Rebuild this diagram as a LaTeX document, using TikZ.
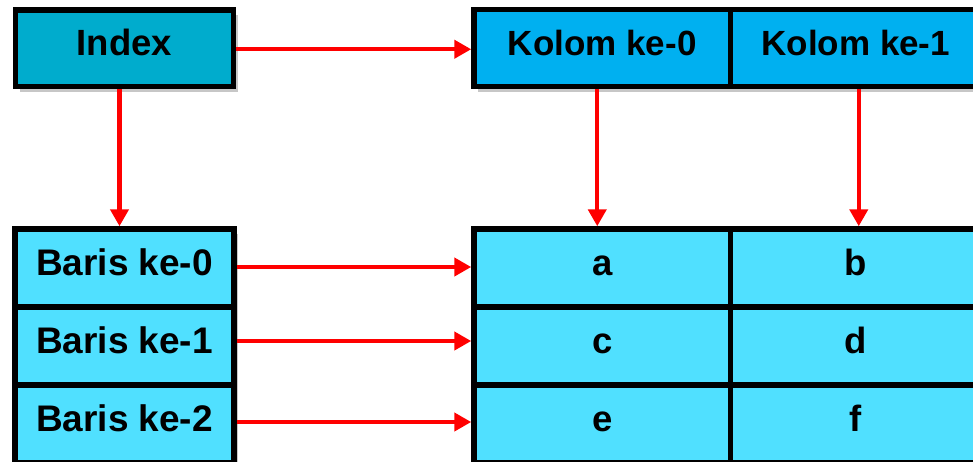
\documentclass[tikz,border=0pt]{standalone}
\usepackage{fontspec}
\setmainfont{Liberation Sans}
\usetikzlibrary{arrows.meta,shadows}
\definecolor{idxblue}{RGB}{0,172,205}
\definecolor{colblue}{RGB}{0,176,240}
\definecolor{cellblue}{RGB}{80,224,255}
\definecolor{linkred}{RGB}{255,0,0}
\begin{document}
\begin{tikzpicture}[x=1pt,y=-1pt,
  box/.style={rectangle, draw=black, line width=5.5pt, inner sep=0pt,
    text height=14pt, text depth=0pt,
    font=\fontsize{36.5}{40}\selectfont\bfseries,
    drop shadow={shadow xshift=4pt, shadow yshift=-5pt, opacity=.22, fill=black}},
  idxbox/.style={box, fill=idxblue, minimum width=218pt, minimum height=76.5pt},
  colbox/.style={box, fill=colblue, minimum height=77pt,
    font=\fontsize{35}{40}\selectfont\bfseries},
  rowbox/.style={box, fill=cellblue, minimum width=219pt, minimum height=78pt,
    font=\fontsize{37}{40}\selectfont\bfseries},
  cellbox/.style={box, fill=cellblue, minimum height=78pt},
  link/.style={draw=linkred, line width=4.2pt,
    -{Triangle[length=17pt,width=18pt]}}
]
\useasboundingbox (0,0) rectangle (973,461);
\clip (0,0) rectangle (973,461);
\fill[white] (0,0) rectangle (973,461);

% index and column headers
\node[idxbox] (idx) at (124.5,48.25) {Index};
\node[colbox, minimum width=256.5pt] (k0) at (602.25,48) {Kolom ke-0};
\node[colbox, minimum width=250.5pt] (k1) at (855.75,48) {Kolom ke-1};

% row labels
\node[rowbox] (r0) at (124.5,268) {Baris ke-0};
\node[rowbox] (r1) at (124.5,346) {Baris ke-1};
\node[rowbox] (r2) at (124.5,424) {Baris ke-2};

% data cells
\node[cellbox, minimum width=256.5pt] (d00) at (602.25,268) {a};
\node[cellbox, minimum width=250.5pt] (d01) at (855.75,268) {b};
\node[cellbox, minimum width=256.5pt] (d10) at (602.25,346) {c};
\node[cellbox, minimum width=250.5pt] (d11) at (855.75,346) {d};
\node[cellbox, minimum width=256.5pt] (d20) at (602.25,424) {e};
\node[cellbox, minimum width=250.5pt] (d21) at (855.75,424) {f};

% links
\draw[link] ([yshift=-1pt]idx.east) -- ([yshift=-1pt]idx.east -| k0.west);
\draw[link] ([xshift=-5pt]idx.south) -- ([xshift=-5pt]idx.south |- r0.north);
\draw[link] ([xshift=-5pt]k0.south) -- ([xshift=-5pt]k0.south |- d00.north);
\draw[link] ([xshift=3pt]k1.south) -- ([xshift=3pt]k1.south |- d01.north);
\draw[link] ([yshift=1pt]r0.east) -- ([yshift=1pt]r0.east -| d00.west);
\draw[link] ([yshift=5pt]r1.east) -- ([yshift=5pt]r1.east -| d10.west);
\draw[link] ([yshift=2pt]r2.east) -- ([yshift=2pt]r2.east -| d20.west);
\end{tikzpicture}
\end{document}
